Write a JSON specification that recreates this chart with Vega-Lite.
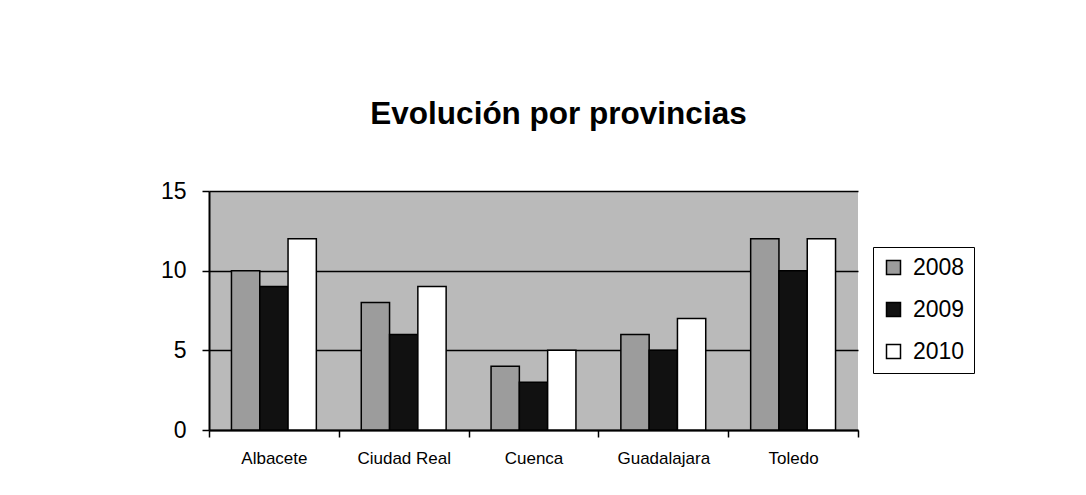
{
  "$schema": "https://vega.github.io/schema/vega-lite/v6.json",
  "autosize": {"type": "none"},
  "padding": {"left": 209, "top": 191, "right": 228, "bottom": 65},
  "width": 649,
  "height": 239,
  "background": "white",
  "title": {
    "text": "Evolución por provincias",
    "font": "Liberation Sans",
    "fontSize": 31.5,
    "fontWeight": "bold",
    "color": "black",
    "anchor": "middle",
    "frame": "group",
    "dx": 25,
    "offset": 50
  },
  "data": {
    "values": [
      {"provincia": "Albacete", "año": "2008", "valor": 10},
      {"provincia": "Albacete", "año": "2009", "valor": 9},
      {"provincia": "Albacete", "año": "2010", "valor": 12},
      {"provincia": "Ciudad Real", "año": "2008", "valor": 8},
      {"provincia": "Ciudad Real", "año": "2009", "valor": 6},
      {"provincia": "Ciudad Real", "año": "2010", "valor": 9},
      {"provincia": "Cuenca", "año": "2008", "valor": 4},
      {"provincia": "Cuenca", "año": "2009", "valor": 3},
      {"provincia": "Cuenca", "año": "2010", "valor": 5},
      {"provincia": "Guadalajara", "año": "2008", "valor": 6},
      {"provincia": "Guadalajara", "año": "2009", "valor": 5},
      {"provincia": "Guadalajara", "año": "2010", "valor": 7},
      {"provincia": "Toledo", "año": "2008", "valor": 12},
      {"provincia": "Toledo", "año": "2009", "valor": 10},
      {"provincia": "Toledo", "año": "2010", "valor": 12}
    ]
  },
  "mark": {"type": "bar", "stroke": "black", "strokeWidth": 1.5},
  "encoding": {
    "x": {
      "field": "provincia",
      "type": "nominal",
      "sort": null,
      "scale": {"paddingInner": 0, "paddingOuter": 0},
      "axis": {
        "title": null,
        "labelAngle": 0,
        "labelFont": "Liberation Sans",
        "labelFontSize": 17,
        "labelColor": "black",
        "labelPadding": 13,
        "tickBand": "extent",
        "tickSize": 7,
        "tickColor": "black",
        "tickWidth": 1.5,
        "domainColor": "black",
        "domainWidth": 2,
        "grid": false
      }
    },
    "xOffset": {
      "field": "año",
      "type": "nominal",
      "scale": {"paddingInner": 0, "paddingOuter": 0.794}
    },
    "y": {
      "field": "valor",
      "type": "quantitative",
      "scale": {"domain": [0, 15], "nice": false},
      "axis": {
        "title": null,
        "values": [0, 5, 10, 15],
        "labelFont": "Liberation Sans",
        "labelFontSize": 23,
        "labelColor": "black",
        "labelPadding": 16,
        "tickSize": 7,
        "tickColor": "black",
        "tickWidth": 1.5,
        "domainColor": "black",
        "domainWidth": 2,
        "grid": true,
        "gridColor": "black",
        "gridWidth": 1.5,
        "gridOpacity": 1
      }
    },
    "fill": {
      "field": "año",
      "type": "nominal",
      "scale": {"domain": ["2008", "2009", "2010"], "range": ["#9c9c9c", "#111111", "#ffffff"]},
      "legend": {
        "title": null,
        "orient": "none",
        "legendX": 664,
        "legendY": 56,
        "symbolType": "square",
        "symbolSize": 196,
        "symbolStrokeColor": "black",
        "symbolStrokeWidth": 1.5,
        "labelFont": "Liberation Sans",
        "labelFontSize": 23,
        "labelColor": "black",
        "labelOffset": 8,
        "rowPadding": 18,
        "padding": 9,
        "strokeColor": "black",
        "fillColor": "white"
      }
    }
  },
  "config": {
    "view": {"fill": "#bababa", "stroke": null}
  }
}
